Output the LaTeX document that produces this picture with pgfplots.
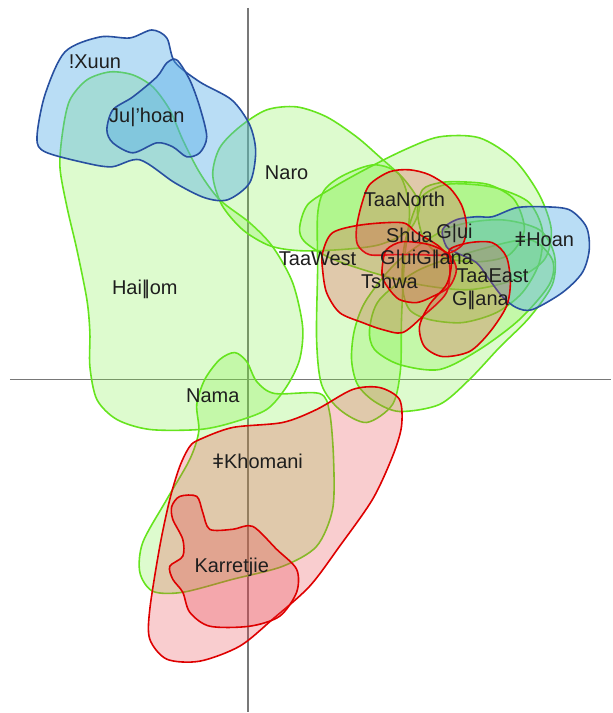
\documentclass[border=0pt]{standalone}
\usepackage{pgfplots}
\pgfplotsset{compat=1.18}
\usepackage{fontspec}
\setmainfont{Liberation Sans}
\newcommand{\dbar}{|\kern-0.13em|}
\definecolor{gline}{RGB}{102,228,30}
\definecolor{gfill}{RGB}{120,240,60}
\definecolor{bline}{RGB}{40,80,160}
\definecolor{bfill}{RGB}{80,170,230}
\definecolor{rline}{RGB}{222,0,0}
\definecolor{rfill}{RGB}{230,60,70}
\definecolor{axgray}{RGB}{120,120,120}
\definecolor{txt}{RGB}{30,30,30}
\begin{document}
\begin{tikzpicture}
\begin{axis}[
  width=306pt, height=356.5pt, scale only axis,
  xmin=0, xmax=612, ymin=0, ymax=713, y dir=reverse,
  hide axis, clip=false,
  grn/.style={smooth cycle, draw=gline, line width=0.8pt, fill=gfill, fill opacity=0.25},
  blu/.style={smooth cycle, draw=bline, line width=0.8pt, fill=bfill, fill opacity=0.4},
  rd/.style={smooth cycle, draw=rline, line width=0.8pt, fill=rfill, fill opacity=0.26},
  nodes={font=\fontsize{10}{12}\selectfont, text=txt},
]
\addplot[draw=none] coordinates {(0,0) (612,713)};
% axes
\addplot[axgray, line width=0.9pt] coordinates {(10,380) (612,380)};
\addplot[axgray, line width=0.9pt] coordinates {(248,8) (248,713)};
% Hai||om
\addplot[grn] coordinates {(60,167) (63,130) (70,100) (87,80) (110,72) (133,75) (153,87) (170,110) (183,140) (200,173) (220,200) (250,223) (273,247) (293,283) (303,327) (300,360) (287,387) (267,410) (233,423) (200,430) (150,430) (117,420) (97,400) (90,367) (90,333) (87,300) (77,250) (67,207)};
% Naro
\addplot[grn] coordinates {(213,175) (220,148) (240,127) (267,110) (297,107) (327,117) (357,137) (380,157) (405,180) (420,205) (410,230) (380,245) (340,250) (300,251) (270,246) (243,230) (222,205)};
% Nama / Khomani
\addplot[grn] coordinates {(197,405) (205,380) (220,360) (235,353) (247,362) (257,382) (275,394) (320,394) (330,413) (334,460) (333,510) (317,547) (283,567) (233,580) (183,593) (153,592) (140,573) (143,543) (167,500) (190,460) (199,432)};
% right cluster greens
\addplot[grn] coordinates {(318,215) (325,190) (345,175) (375,165) (400,175) (410,210) (405,260) (402,320) (401,370) (393,405) (367,423) (340,410) (322,385) (317,340) (318,270)};
\addplot[grn] coordinates {(300,228) (308,205) (333,188) (365,170) (405,150) (440,137) (480,138) (515,160) (540,195) (552,230) (545,260) (515,280) (470,290) (420,285) (370,272) (330,258) (305,242)};
\addplot[grn] coordinates {(367,300) (355,330) (352,360) (358,385) (375,402) (400,412) (440,405) (470,380) (500,348) (530,318) (553,285) (555,255) (540,230) (500,220) (450,228) (400,260)};
\addplot[grn] coordinates {(403,287) (405,245) (420,200) (445,185) (477,185) (503,190) (530,203) (543,230) (540,263) (523,293) (497,313) (463,323) (430,320) (410,310)};
\addplot[grn] coordinates {(370,330) (380,300) (420,270) (480,250) (530,240) (553,260) (550,285) (520,320) (480,350) (440,370) (400,365) (375,350)};
\addplot[grn] coordinates {(423,190) (440,183) (460,182) (490,185) (515,200) (525,230) (510,255) (480,262) (445,258) (425,240) (418,213)};
% blues
\addplot[blu] coordinates {(37,138) (45,95) (65,52) (100,37) (130,38) (152,30) (167,38) (175,62) (200,82) (232,100) (250,125) (256,152) (250,183) (228,200) (205,198) (175,183) (140,160) (112,167) (85,163) (45,152)};
\addplot[blu] coordinates {(177,60) (190,80) (200,107) (207,137) (200,153) (187,157) (173,147) (157,143) (133,153) (113,143) (107,130) (113,110) (133,97) (157,77) (167,63)};
\addplot[blu] coordinates {(443,230) (457,220) (477,217) (493,217) (517,208) (543,207) (570,210) (587,227) (590,250) (583,273) (563,293) (533,310) (517,308) (503,297) (490,280) (477,263) (457,253) (447,247)};
% reds
\addplot[rd] coordinates {(370,185) (390,172) (410,170) (430,175) (450,188) (462,205) (467,225) (463,245) (445,255) (420,255) (395,255) (370,255) (358,245) (357,228) (362,205)};
\addplot[rd] coordinates {(323,253) (333,233) (363,225) (403,223) (417,233) (440,247) (450,263) (447,293) (423,317) (403,333) (383,330) (363,323) (340,313) (327,293) (323,270)};
\addplot[rd] coordinates {(383,265) (387,250) (403,242) (430,245) (450,255) (457,270) (450,287) (433,297) (417,303) (400,300) (390,290) (383,278)};
\addplot[rd] coordinates {(450,250) (470,243) (493,243) (507,257) (511,283) (507,307) (490,333) (470,352) (443,357) (425,347) (420,327) (430,305) (447,285) (452,265)};
\addplot[rd] coordinates {(200,440) (233,428) (283,423) (317,410) (353,390) (380,388) (400,400) (402,427) (393,457) (373,500) (340,547) (310,587) (273,620) (240,647) (200,662) (167,660) (150,640) (150,610) (160,547) (170,500) (180,467) (190,447)};
\addplot[rd] coordinates {(180,497) (197,497) (203,513) (210,530) (233,530) (253,527) (277,550) (297,570) (297,593) (280,617) (250,627) (210,627) (190,613) (183,593) (173,580) (170,567) (183,557) (183,540) (173,520) (172,507)};
% labels
\node at (axis cs:95,62) {!Xuun};
\node at (axis cs:147,118) {Ju|’hoan};
\node at (axis cs:287,173) {Naro};
\node at (axis cs:145,290) {Hai\dbar om};
\node at (axis cs:405,200) {TaaNorth};
\node at (axis cs:410,236) {Shua};
\node at (axis cs:455,234) {G|ui};
\node at (axis cs:545,240) {ǂHoan};
\node at (axis cs:318,259) {TaaWest};
\node at (axis cs:427,260) {G|uiG\dbar ana};
\node at (axis cs:390,282) {Tshwa};
\node at (axis cs:493,276) {TaaEast};
\node at (axis cs:481,301) {G\dbar ana};
\node at (axis cs:213,396) {Nama};
\node at (axis cs:258,462) {ǂKhomani};
\node at (axis cs:232,568) {Karretjie};
\end{axis}
\end{tikzpicture}
\end{document}
